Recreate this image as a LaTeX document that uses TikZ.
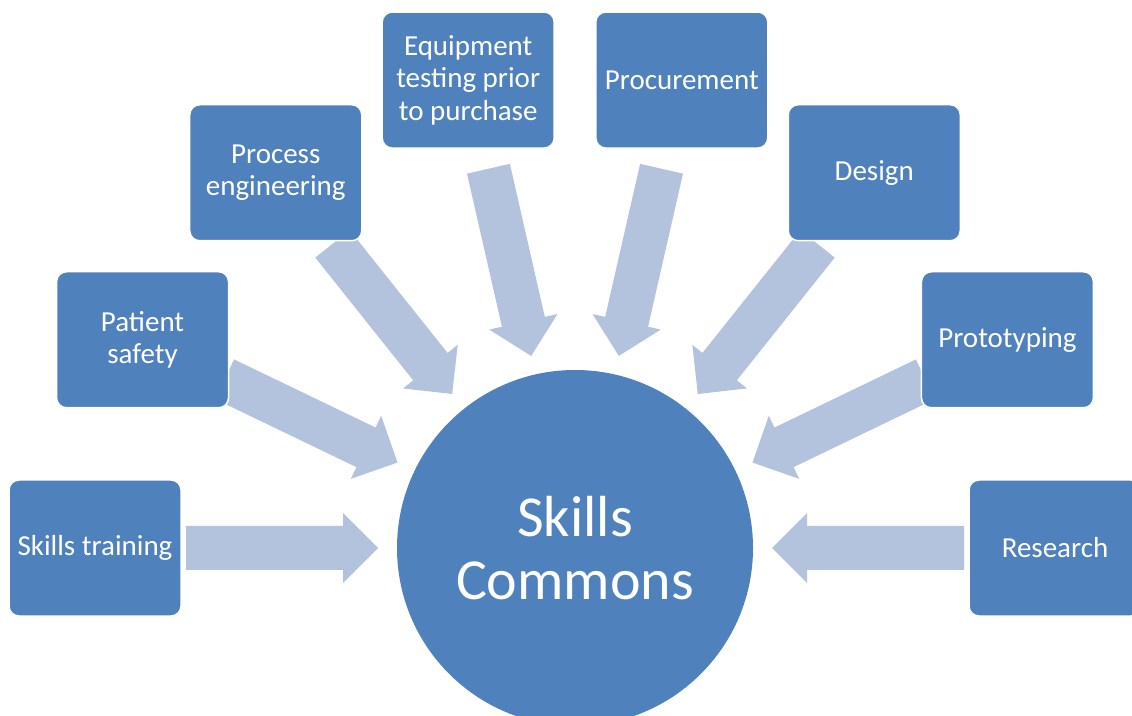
\documentclass[tikz,border=0pt]{standalone}
\usepackage{fontspec}
\setmainfont{Carlito}
\usetikzlibrary{calc}
\definecolor{boxblue}{RGB}{79,129,189}
\definecolor{arrowblue}{RGB}{179,194,221}
\pgfdeclarelayer{background}
\pgfsetlayers{background,main}
\begin{document}
\begin{tikzpicture}[x=1pt,y=1pt,
  topic/.style={rectangle, rounded corners=10pt, fill=boxblue, draw=white,
    line width=1.5pt, minimum width=172pt, minimum height=136pt, text=white,
    align=center, font=\fontsize{29}{32.5}\selectfont, inner sep=0pt},
  hubnode/.style={circle, fill=boxblue, minimum size=356pt, text=white,
    align=center, font=\fontsize{58}{63}\selectfont, inner sep=0pt},
  blockarrow/.style={fill=arrowblue}]
\clip (0,0) rectangle (1132,715);
\coordinate (c) at (575,167);
% central hub
\node[hubnode] (hub) at (c) {Skills\\Commons};
% surrounding topics on a half ring
\node[topic] (training)    at ($(c)+(180:480)$)     {Skills training};
\node[topic] (safety)      at ($(c)+(154.286:480)$) {Patient\\safety};
\node[topic] (process)     at ($(c)+(128.571:480)$) {Process\\engineering};
\node[topic] (equipment)   at ($(c)+(102.857:480)$) {Equipment\\testing prior\\to purchase};
\node[topic] (procurement) at ($(c)+(77.143:480)$)  {Procurement};
\node[topic] (design)      at ($(c)+(51.429:480)$)  {Design};
\node[topic] (prototyping) at ($(c)+(25.714:480)$)  {Prototyping};
\node[topic] (research)    at ($(c)+(0:480)$)       {Research};
% block arrows pointing into the hub
\begin{pgfonlayer}{background}
\foreach \a in {180,154.286,128.571,102.857,77.143,51.429,25.714,0}{
  \begin{scope}[shift={(hub.center)}, rotate=\a]
    \fill[blockarrow] (389,22) -- (232,22) -- (232,35) -- (197,0)
      -- (232,-35) -- (232,-22) -- (389,-22) -- cycle;
  \end{scope}
}
\end{pgfonlayer}
\end{tikzpicture}
\end{document}
